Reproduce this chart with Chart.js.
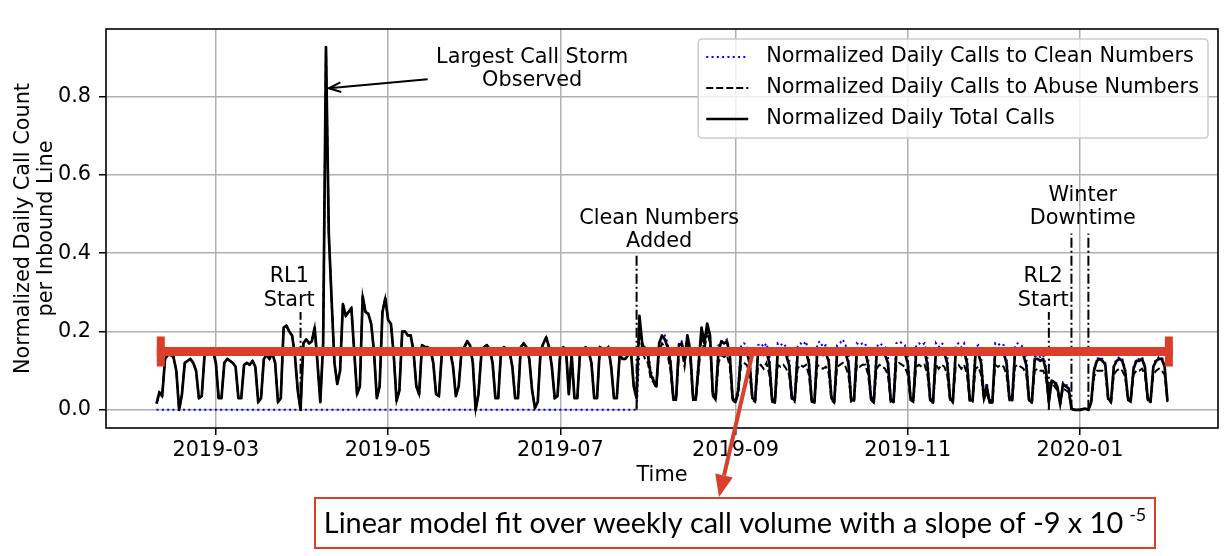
<!DOCTYPE html>
<html><head><meta charset="utf-8">
<script src="https://cdn.jsdelivr.net/npm/chart.js@4.4.1/dist/chart.umd.min.js"></script>
<style>html,body{margin:0;padding:0;background:#fff;}#wrap{width:1229px;height:556px;}</style>
</head><body><div id="wrap"><canvas id="c" width="1229" height="556"></canvas></div>
<script>
// ---------------- DATA ----------------
const seriesStart = '2019-02-08';           // first daily value
const tickLabels = ['2019-03','2019-05','2019-07','2019-09','2019-11','2020-01'];
const yTickValues = [0, 0.2, 0.4, 0.6, 0.8];

// Daily total calls, 2019-02-08 .. 2019-07-28 (before clean numbers were added; all calls went to abuse numbers)
const totalEarly = [
0.016,0.045,0.035,
0.13,0.14,0.14,0.135,0.10,0.0,0.04,
0.12,0.125,0.13,0.12,0.10,0.03,0.035,
0.14,0.15,0.155,0.15,0.12,0.03,0.03,
0.12,0.13,0.125,0.12,0.11,0.03,0.03,
0.115,0.12,0.115,0.125,0.11,0.02,0.03,
0.13,0.14,0.13,0.145,0.12,0.02,0.03,
0.21,0.215,0.2,0.19,0.14,0.05,0.0,
0.17,0.18,0.17,0.175,0.21,0.12,0.02,
0.17,0.926,0.45,0.28,0.12,0.066,0.1,
0.27,0.24,0.25,0.26,0.15,0.04,0.06,
0.29,0.25,0.245,0.22,0.15,0.03,0.06,
0.25,0.285,0.23,0.22,0.14,0.023,0.05,
0.2,0.2,0.19,0.19,0.15,0.06,0.04,
0.165,0.16,0.16,0.155,0.12,0.04,0.035,
0.14,0.15,0.155,0.15,0.11,0.035,0.06,
0.15,0.16,0.175,0.165,0.12,0.0,0.04,
0.14,0.16,0.165,0.155,0.12,0.03,0.03,
0.15,0.16,0.155,0.15,0.11,0.03,0.03,
0.16,0.17,0.16,0.13,0.05,0.005,0.02,
0.15,0.17,0.185,0.16,0.11,0.03,0.035,
0.15,0.16,0.155,0.04,0.14,0.03,0.03,
0.15,0.155,0.16,0.15,0.12,0.03,0.03,
0.16,0.155,0.15,0.16,0.11,0.03,0.03,
0.14,0.13,0.13,0.14,0.15,0.06,0.03
];
// Clean numbers did not exist yet: zero until 2019-07-28
const cleanEarly = [
0,0,0,
0,0,0,0,0,0,0, 0,0,0,0,0,0,0, 0,0,0,0,0,0,0, 0,0,0,0,0,0,0,
0,0,0,0,0,0,0, 0,0,0,0,0,0,0, 0,0,0,0,0,0,0, 0,0,0,0,0,0,0,
0,0,0,0,0,0,0, 0,0,0,0,0,0,0, 0,0,0,0,0,0,0, 0,0,0,0,0,0,0,
0,0,0,0,0,0,0, 0,0,0,0,0,0,0, 0,0,0,0,0,0,0, 0,0,0,0,0,0,0,
0,0,0,0,0,0,0, 0,0,0,0,0,0,0, 0,0,0,0,0,0,0, 0,0,0,0,0,0,0,
0,0,0,0,0,0,0, 0,0,0,0,0,0,0, 0,0,0,0,0,0,0, 0,0,0,0,0,0,0
];
// 2019-07-29 .. 2020-02-01
const totalLate = [
0.24,0.17,0.15,0.14,0.09,0.075,0.06,
0.17,0.19,0.18,0.16,0.12,0.03,0.03,
0.165,0.17,0.125,0.19,0.15,0.03,0.03,
0.12,0.21,0.17,0.22,0.19,0.04,0.03,
0.15,0.175,0.17,0.175,0.14,0.03,0.02,
0.05,0.15,0.155,0.15,0.12,0.03,0.025,
0.145,0.15,0.14,0.15,0.12,0.025,0.02,
0.15,0.145,0.15,0.14,0.115,0.03,0.025,
0.14,0.15,0.145,0.15,0.12,0.025,0.02,
0.15,0.15,0.14,0.145,0.125,0.03,0.02,
0.145,0.15,0.155,0.145,0.12,0.025,0.025,
0.15,0.145,0.15,0.15,0.115,0.03,0.02,
0.14,0.15,0.145,0.14,0.12,0.025,0.02,
0.15,0.155,0.15,0.145,0.12,0.03,0.025,
0.145,0.15,0.145,0.15,0.115,0.025,0.02,
0.15,0.14,0.15,0.145,0.12,0.03,0.02,
0.145,0.15,0.14,0.15,0.12,0.025,0.025,
0.14,0.145,0.12,0.03,0.06,0.02,0.02,
0.15,0.145,0.15,0.145,0.12,0.03,0.025,
0.145,0.15,0.145,0.14,0.115,0.025,0.02,
0.13,0.13,0.125,0.13,0.1,0.02,0.075,
0.07,0.06,0.015,0.066,0.06,0.055,0.003,
0.0,0.0,0.0,0.002,0.003,0.0,0.02,
0.10,0.125,0.13,0.125,0.115,0.03,0.02,
0.11,0.125,0.13,0.125,0.10,0.03,0.025,
0.105,0.125,0.125,0.13,0.11,0.03,0.02,
0.11,0.125,0.13,0.13,0.11,0.023
];
const abuseLate = [
0.22,0.15,0.13,0.12,0.08,0.07,0.055,
0.15,0.17,0.16,0.14,0.10,0.025,0.025,
0.14,0.15,0.11,0.17,0.13,0.025,0.025,
0.10,0.19,0.15,0.2,0.17,0.035,0.025,
0.12,0.14,0.135,0.14,0.11,0.025,0.018,
0.04,0.115,0.12,0.115,0.095,0.025,0.02,
0.11,0.115,0.105,0.12,0.09,0.02,0.018,
0.115,0.11,0.115,0.105,0.09,0.025,0.02,
0.105,0.115,0.11,0.115,0.09,0.02,0.018,
0.115,0.11,0.105,0.11,0.095,0.025,0.018,
0.11,0.115,0.12,0.11,0.09,0.02,0.02,
0.115,0.11,0.115,0.115,0.09,0.025,0.018,
0.105,0.115,0.11,0.105,0.09,0.02,0.018,
0.115,0.12,0.115,0.11,0.09,0.025,0.02,
0.11,0.115,0.11,0.115,0.09,0.02,0.018,
0.115,0.105,0.115,0.11,0.09,0.025,0.018,
0.11,0.115,0.105,0.115,0.09,0.02,0.02,
0.105,0.11,0.09,0.025,0.045,0.018,0.018,
0.115,0.11,0.115,0.11,0.09,0.025,0.02,
0.11,0.115,0.11,0.105,0.09,0.02,0.018,
0.10,0.105,0.1,0.1,0.08,0.018,0.07,
0.06,0.05,0.012,0.055,0.05,0.045,0.002,
0.0,0.0,0.0,0.002,0.002,0.0,0.018,
0.085,0.1,0.1,0.1,0.095,0.025,0.018,
0.09,0.1,0.105,0.1,0.085,0.025,0.02,
0.09,0.1,0.1,0.105,0.09,0.025,0.018,
0.09,0.1,0.105,0.1,0.09,0.02
];
const cleanLate = [
0.15,0.16,0.16,0.15,0.10,0.08,0.06,
0.17,0.19,0.19,0.17,0.13,0.035,0.035,
0.175,0.175,0.14,0.19,0.16,0.035,0.035,
0.13,0.2,0.18,0.2,0.19,0.045,0.035,
0.165,0.175,0.175,0.18,0.15,0.035,0.025,
0.06,0.165,0.17,0.165,0.14,0.035,0.03,
0.165,0.17,0.16,0.17,0.14,0.03,0.025,
0.17,0.165,0.17,0.16,0.135,0.035,0.03,
0.16,0.17,0.165,0.175,0.14,0.03,0.025,
0.17,0.175,0.16,0.165,0.145,0.035,0.025,
0.165,0.17,0.18,0.165,0.14,0.03,0.03,
0.17,0.165,0.17,0.17,0.135,0.035,0.025,
0.16,0.17,0.165,0.16,0.14,0.03,0.025,
0.17,0.175,0.17,0.165,0.14,0.035,0.03,
0.165,0.17,0.165,0.17,0.135,0.03,0.025,
0.17,0.16,0.17,0.165,0.14,0.035,0.025,
0.165,0.17,0.16,0.17,0.14,0.03,0.03,
0.16,0.165,0.14,0.035,0.07,0.025,0.025,
0.17,0.165,0.17,0.165,0.14,0.035,0.03,
0.165,0.17,0.165,0.16,0.135,0.03,0.025,
0.135,0.14,0.135,0.14,0.11,0.025,0.07,
0.075,0.065,0.015,0.07,0.065,0.06,0.003,
0.0,0.0,0.0,0.002,0.003,0.0,0.022,
0.105,0.13,0.135,0.13,0.12,0.032,0.022,
0.115,0.13,0.135,0.13,0.105,0.032,0.027,
0.11,0.13,0.13,0.135,0.115,0.032,0.022,
0.115,0.13,0.135,0.135,0.115,0.025
];

// event markers (dash-dot vertical lines)
const eventLines = [
  {date:'2019-03-31', top:0.25},   // RL1 start
  {date:'2019-07-28', top:0.40},   // clean numbers added
  {date:'2019-12-21', top:0.25},   // RL2 start
  {date:'2019-12-29', top:0.45},   // winter downtime begins
  {date:'2020-01-04', top:0.45}    // winter downtime ends
];
const eventLabels = [
  {text:['Largest Call Storm','Observed'], at:'2019-06-21', y:0.900},
  {text:['RL1','Start'], at:'2019-03-27', y:0.339},
  {text:['Clean Numbers','Added'], at:'2019-08-05', y:0.489},
  {text:['RL2','Start'], at:'2019-12-19', y:0.339},
  {text:['Winter','Downtime'], at:'2020-01-02', y:0.547}
];
const stormArrow = {from:{at:'2019-05-15', y:0.844}, to:{at:'2019-04-10', y:0.821}};
const fitNote = 'Linear model fit over weekly call volume with a slope of -9 x 10';
const fitNoteExp = '-5';
const fitLine = {y:0.149, from:39.5, to:396.5, arrowAt:249.2};

// ---------------- BUILD ----------------
const DAY = 86400000, EPOCH = Date.UTC(2019,0,1);
function dayNum(s){const p=s.split('-').map(Number);return (Date.UTC(p[0],p[1]-1,p[2]||1)-EPOCH)/DAY;}
const total = totalEarly.concat(totalLate);
const abuse = totalEarly.concat(abuseLate);
const clean = cleanEarly.concat(cleanLate);
const d0 = dayNum(seriesStart);
const pts = arr => arr.map((v,i)=>({x:d0+i,y:v}));
const xLo = d0, xHi = d0+total.length-1, xPad = 0.05*(xHi-xLo);
const yHi = Math.max(...total,...abuse,...clean), yLo = 0, yPad = 0.05*(yHi-yLo);
const tickDays = tickLabels.map(t=>dayNum(t+'-01'));

const FONT = '"DejaVu Sans", sans-serif';
const FS = 20.8;
const LINE = 23.5;
Chart.defaults.font.family = FONT;
Chart.defaults.font.size = FS;
Chart.defaults.color = '#000';

const vlineSets = eventLines.map(e=>({
  label:'_ev', data:[{x:dayNum(e.date),y:0},{x:dayNum(e.date),y:e.top}],
  borderColor:'#000', borderWidth:2, borderDash:[10,3,2,3], pointRadius:0, order:0
}));

const dsTotal = {label:'Normalized Daily Total Calls', data:pts(total), borderColor:'#000', borderWidth:2.7, pointRadius:0, tension:0, borderJoinStyle:'round', order:1};
const dsAbuse = {label:'Normalized Daily Calls to Abuse Numbers', data:pts(abuse), borderColor:'#000', borderWidth:2, borderDash:[7,3], pointRadius:0, tension:0, order:2};
const dsClean = {label:'Normalized Daily Calls to Clean Numbers', data:pts(clean), borderColor:'#0000ff', borderWidth:2, borderDash:[2,3.3], pointRadius:0, tension:0, order:3};
const legendItems = [dsClean, dsAbuse, dsTotal];

function rr(ctx,x,y,w,h,r){ctx.beginPath();ctx.moveTo(x+r,y);ctx.lineTo(x+w-r,y);ctx.quadraticCurveTo(x+w,y,x+w,y+r);ctx.lineTo(x+w,y+h-r);ctx.quadraticCurveTo(x+w,y+h,x+w-r,y+h);ctx.lineTo(x+r,y+h);ctx.quadraticCurveTo(x,y+h,x,y+h-r);ctx.lineTo(x,y+r);ctx.quadraticCurveTo(x,y,x+r,y);ctx.closePath();}

const extras = {
  id:'extras',
  afterDatasetsDraw(chart){
    const {ctx, chartArea:ca, scales:{x,y}} = chart;
    ctx.save();
    ctx.strokeStyle='#000'; ctx.lineWidth=1.6;
    ctx.strokeRect(ca.left, ca.top, ca.right-ca.left, ca.bottom-ca.top);
    ctx.font = FS+'px '+FONT; ctx.fillStyle='#000'; ctx.textAlign='center'; ctx.textBaseline='middle';
    eventLabels.forEach(ev=>{
      const px = x.getPixelForValue(dayNum(ev.at)), py = y.getPixelForValue(ev.y);
      ev.text.forEach((t,i)=>ctx.fillText(t, px, py+i*LINE));
    });
    // storm arrow
    const sx=x.getPixelForValue(dayNum(stormArrow.from.at)), sy=y.getPixelForValue(stormArrow.from.y);
    const tx=x.getPixelForValue(dayNum(stormArrow.to.at)), ty=y.getPixelForValue(stormArrow.to.y);
    ctx.lineWidth=2; ctx.strokeStyle='#000';
    ctx.beginPath(); ctx.moveTo(sx,sy); ctx.lineTo(tx,ty); ctx.stroke();
    const ang=Math.atan2(sy-ty,sx-tx), hl=13, ha=0.38;
    ctx.beginPath();
    ctx.moveTo(tx+hl*Math.cos(ang+ha), ty+hl*Math.sin(ang+ha)); ctx.lineTo(tx,ty);
    ctx.lineTo(tx+hl*Math.cos(ang-ha), ty+hl*Math.sin(ang-ha)); ctx.stroke();
    // legend
    ctx.font = FS+'px '+FONT;
    const maxW = Math.max(...legendItems.map(d=>ctx.measureText(d.label).width));
    const right = ca.right-10, top = ca.top+10, w = 68+maxW+9, h = 99, left = right-w;
    rr(ctx,left,top,w,h,4); ctx.fillStyle='rgba(255,255,255,0.8)'; ctx.fill();
    ctx.strokeStyle='#cccccc'; ctx.lineWidth=1.5; ctx.stroke();
    legendItems.forEach((d,i)=>{
      const ry = top+18+31*i;
      ctx.save(); ctx.strokeStyle=d.borderColor; ctx.lineWidth=d.borderWidth; ctx.setLineDash(d.borderDash||[]);
      ctx.beginPath(); ctx.moveTo(left+8,ry); ctx.lineTo(left+50,ry); ctx.stroke(); ctx.restore();
      ctx.fillStyle='#000'; ctx.textAlign='left'; ctx.textBaseline='middle';
      ctx.fillText(d.label, left+68, ry);
    });
    ctx.restore();
  },
  afterDraw(chart){
    const {ctx, scales:{x,y}} = chart;
    const RED='#d9402b';
    ctx.save();
    const yp=y.getPixelForValue(fitLine.y), x1=x.getPixelForValue(fitLine.from), x2=x.getPixelForValue(fitLine.to);
    ctx.fillStyle=RED;
    ctx.fillRect(x1-4, yp-4.5, x2-x1+8, 9);
    ctx.fillRect(x1-4, yp-15, 8, 30);
    ctx.fillRect(x2-4, yp-15, 8, 30);
    // note box
    const bx=315, by=498, bw=840, bh=50;
    ctx.fillStyle='#fff'; ctx.fillRect(bx,by,bw,bh);
    ctx.strokeStyle=RED; ctx.lineWidth=2; ctx.strokeRect(bx,by,bw,bh);
    // red arrow
    const ax=x.getPixelForValue(fitLine.arrowAt), ay=yp, tx=719, ty=by-1;
    const ang=Math.atan2(ty-ay,tx-ax), L=22, W=9;
    const bxp=tx-L*Math.cos(ang), byp=ty-L*Math.sin(ang);
    ctx.strokeStyle=RED; ctx.lineWidth=4;
    ctx.beginPath(); ctx.moveTo(ax,ay); ctx.lineTo(bxp,byp); ctx.stroke();
    ctx.beginPath(); ctx.moveTo(tx,ty);
    ctx.lineTo(bxp+W*Math.sin(ang), byp-W*Math.cos(ang));
    ctx.lineTo(bxp-W*Math.sin(ang), byp+W*Math.cos(ang)); ctx.closePath();
    ctx.fillStyle=RED; ctx.fill();
    // note text
    ctx.font='26px Lato'; const w0=ctx.measureText(fitNote).width; const fs=26*800/w0;
    ctx.font=fs+'px Lato'; const w1=ctx.measureText(fitNote).width;
    ctx.font=(fs*0.62)+'px Lato'; const w2=ctx.measureText(fitNoteExp).width;
    const start = bx+bw/2-(w1+6+w2)/2;
    ctx.fillStyle='#000'; ctx.textAlign='left'; ctx.textBaseline='alphabetic';
    ctx.font=fs+'px Lato'; ctx.fillText(fitNote, start, by+35);
    ctx.font=(fs*0.62)+'px Lato'; ctx.fillText(fitNoteExp, start+w1+6, by+23);
    ctx.restore();
  }
};

new Chart(document.getElementById('c'), {
  type:'line',
  data:{datasets:[dsClean, dsAbuse, dsTotal, ...vlineSets]},
  options:{
    responsive:false, animation:false, events:[],
    layout:{padding:{left:0,right:11,top:29,bottom:0}},
    plugins:{legend:{display:false}, tooltip:{enabled:false}},
    scales:{
      x:{type:'linear', bounds:'data', min:xLo-xPad, max:xHi+xPad,
        afterBuildTicks:a=>{a.ticks=tickDays.map(v=>({value:v}));},
        afterFit:s=>{s.height=128;},
        ticks:{callback:(v,i)=>tickLabels[i], maxRotation:0, autoSkip:false, padding:3, color:'#000', font:{size:FS}},
        grid:{color:'#b0b0b0', lineWidth:1.5, tickColor:'#000', tickLength:7, tickWidth:1.5},
        border:{display:false},
        title:{display:true, text:'Time', color:'#000', font:{size:FS, lineHeight:1.12}, padding:{top:0,bottom:68.5}}
      },
      y:{type:'linear', bounds:'data', min:yLo-yPad, max:yHi+yPad,
        afterBuildTicks:a=>{a.ticks=yTickValues.map(v=>({value:v}));},
        afterFit:s=>{s.width=106;},
        ticks:{callback:v=>v.toFixed(1), padding:8, color:'#000', font:{size:FS}},
        grid:{color:'#b0b0b0', lineWidth:1.5, tickColor:'#000', tickLength:7, tickWidth:1.5},
        border:{display:false},
        title:{display:true, text:['Normalized Daily Call Count','per Inbound Line'], color:'#000', font:{size:FS, lineHeight:1.12}, padding:{top:12,bottom:0}}
      }
    }
  },
  plugins:[extras]
});
</script></body></html>
